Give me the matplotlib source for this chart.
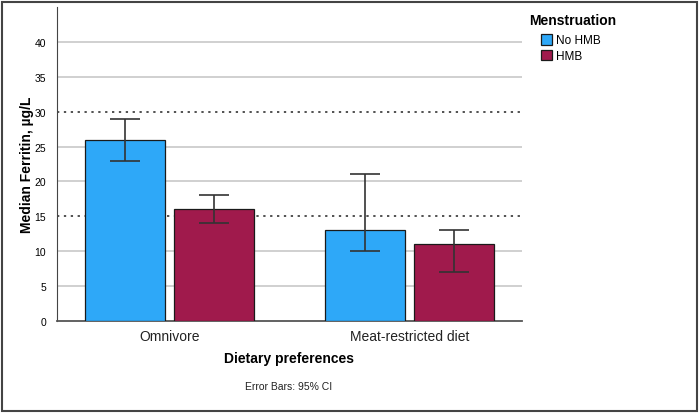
import numpy as np
import matplotlib
matplotlib.use("Agg")
from matplotlib import pyplot as plt
from matplotlib.patches import Rectangle

categories = ["Omnivore", "Meat-restricted diet"]
groups = ["No HMB", "HMB"]
medians = {"No HMB": [26, 13], "HMB": [16, 11]}
ci_low = {"No HMB": [23, 10], "HMB": [14, 7]}
ci_high = {"No HMB": [29, 21], "HMB": [18, 13]}
colors = {"No HMB": "#2ea8f8", "HMB": "#a01a4c"}
ref_lines = [30, 15]
yticks = [0, 5, 10, 15, 20, 25, 30, 35, 40]

plt.rcParams["font.family"] = ["Liberation Sans", "DejaVu Sans"]

fig = plt.figure(figsize=(7, 4.14), dpi=100)
ax = fig.add_axes([57 / 700, 1 - 322 / 414, 465 / 700, 314 / 414])

x = np.arange(len(categories))
width = 0.333
offsets = [-0.185, 0.185]

for g, off in zip(groups, offsets):
    vals = np.array(medians[g])
    lo = vals - np.array(ci_low[g])
    hi = np.array(ci_high[g]) - vals
    ax.bar(x + off, vals, width, color=colors[g], edgecolor="#1a1a1a",
           linewidth=0.9, label=g, zorder=3)
    ax.errorbar(x + off, vals, yerr=[lo, hi], fmt="none", ecolor="#333333",
                elinewidth=1.2, capsize=11, capthick=1.2, zorder=4)

for t in yticks:
    if t in ref_lines or t == 0:
        continue
    ax.axhline(t, color="#c8c8c8", linewidth=1.2, zorder=1)
for r in ref_lines:
    ax.axhline(r, color="#222222", linewidth=1.1, linestyle=(0, (1.5, 3)), zorder=2)

ax.set_xlim(-0.47, 1.47)
ax.set_ylim(0, 45)
ax.set_yticks(yticks)
ax.set_xticks(x)
ax.set_xticklabels(categories, fontsize=10, color="#222222")
ax.tick_params(axis="y", labelsize=7.5, length=0, pad=8)
ax.tick_params(axis="x", length=0, pad=6)
for s in ["top", "right"]:
    ax.spines[s].set_visible(False)
ax.spines["left"].set_color("#444444")
ax.spines["bottom"].set_color("#555555")
ax.spines["bottom"].set_linewidth(1.3)

ax.set_ylabel("Median Ferritin, µg/L", fontsize=10, fontweight="bold", labelpad=0)
fig.text(289 / 700, 1 - 359 / 414, "Dietary preferences", fontsize=10,
         fontweight="bold", ha="center", va="center")
fig.text(289 / 700, 1 - 387 / 414, "Error Bars: 95% CI", fontsize=7.5,
         ha="center", va="center", color="#222222")

fig.text(529 / 700, 1 - 21 / 414, "Menstruation", fontsize=10,
         fontweight="bold", ha="left", va="center")
leg = fig.legend(loc="upper left", bbox_to_anchor=(541 / 700, 1 - 35 / 414),
                 frameon=False, fontsize=8.5,
                 handlelength=0.95, handleheight=1.0, handletextpad=0.3,
                 labelspacing=0.3, borderaxespad=0, borderpad=0)

fig.patches.append(Rectangle((2 / 700, 2 / 414), 695 / 700, 409 / 414,
                             transform=fig.transFigure, fill=False,
                             edgecolor="#444444", linewidth=1.5))

fig.savefig("out.png", dpi=100)
